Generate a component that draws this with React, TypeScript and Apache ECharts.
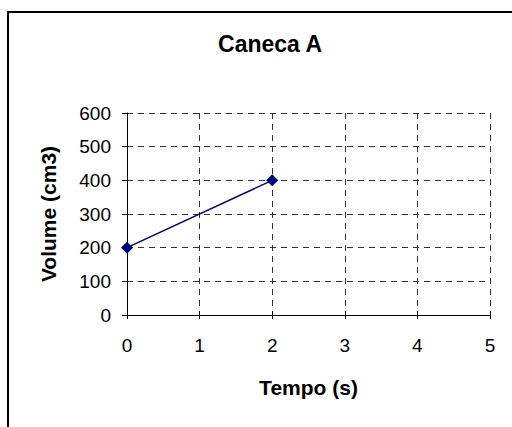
import React, { useEffect, useRef } from "react";
import * as echarts from "echarts";

const title = "Caneca A";
const xName = "Tempo (s)";
const yName = "Volume (cm3)";
const tempo = [0, 2];
const volume = [200, 400];
const xMin = 0, xMax = 5, xStep = 1;
const yMin = 0, yMax = 600, yStep = 100;

export default function App() {
  const ref = useRef<HTMLDivElement>(null);
  useEffect(() => {
    if (!ref.current) return;
    const chart = echarts.init(ref.current, null, { renderer: "svg" });
    const font = "'Liberation Sans', Arial, sans-serif";
    const gridLine = { show: true, lineStyle: { color: "#333", type: [6, 5] as any, width: 1 } };
    chart.setOption({
      animation: false,
      backgroundColor: "#fff",
      title: {
        text: title,
        left: 265,
        top: 27,
        textAlign: "center",
        textStyle: { fontFamily: font, fontWeight: "bold", fontSize: 23, color: "#000" },
      },
      graphic: [
        {
          type: "rect",
          shape: { x: 8, y: 12, width: 600, height: 500 },
          style: { fill: "none", stroke: "#000", lineWidth: 2 },
          silent: true,
        },
      ],
      grid: { left: 127, right: 22, top: 113, bottom: 112 },
      xAxis: [
        {
          type: "value",
          min: xMin,
          max: xMax,
          interval: xStep,
          name: xName,
          nameLocation: "middle",
          nameGap: 62,
          nameTextStyle: { fontFamily: font, fontWeight: "bold", fontSize: 21, color: "#000" },
          axisLine: { show: true, onZero: false, lineStyle: { color: "#000", width: 1 } },
          axisTick: { show: true, inside: false, length: 4, lineStyle: { color: "#000" } },
          axisLabel: { fontFamily: font, fontSize: 19, color: "#000", margin: 21 },
          splitLine: gridLine,
        },
        {
          type: "value",
          min: xMin,
          max: xMax,
          interval: xStep,
          position: "bottom",
          axisLine: { show: false },
          axisTick: { show: true, inside: true, length: 4, lineStyle: { color: "#000" } },
          axisLabel: { show: false },
          splitLine: { show: false },
        },
      ],
      yAxis: {
        type: "value",
        min: yMin,
        max: yMax,
        interval: yStep,
        name: yName,
        nameLocation: "middle",
        nameGap: 68,
        nameTextStyle: { fontFamily: font, fontWeight: "bold", fontSize: 21, color: "#000" },
        axisLine: { show: true, lineStyle: { color: "#000", width: 1 } },
        axisTick: { show: true, inside: false, length: 5, lineStyle: { color: "#000" } },
        axisLabel: { fontFamily: font, fontSize: 19, color: "#000", margin: 16 },
        splitLine: gridLine,
      },
      series: [
        {
          type: "line",
          xAxisIndex: 0,
          data: tempo.map((t, i) => [t, volume[i]]),
          symbol: "diamond",
          symbolSize: 12,
          itemStyle: { color: "#000080" },
          lineStyle: { color: "#000080", width: 1.5 },
        },
      ],
    });
    return () => chart.dispose();
  }, []);
  return (
    <div
      ref={ref}
      style={{ position: "fixed", left: 0, top: 0, width: 512, height: 427 }}
    />
  );
}
